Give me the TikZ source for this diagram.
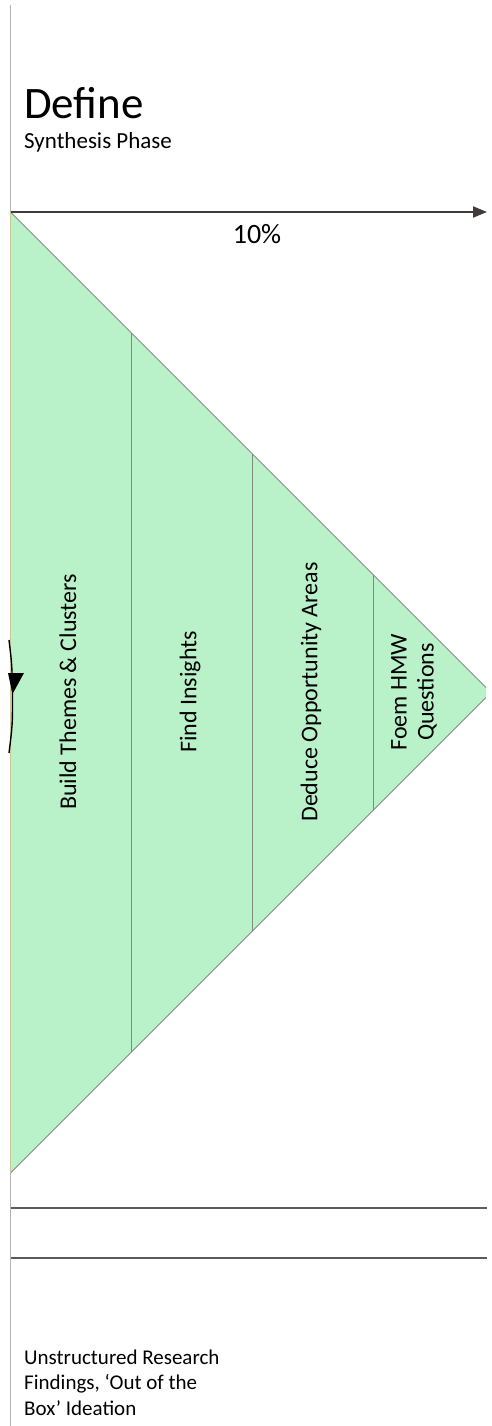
\documentclass[tikz,border=0pt]{standalone}
\usepackage{fontspec}
\setmainfont{Carlito}
\usepackage{xcolor}
\usetikzlibrary{arrows.meta}
\usetikzlibrary{calc}
\definecolor{definefill}{HTML}{B9F1C9}
\definecolor{axisgray}{HTML}{B4B4B4}
\definecolor{arrowgray}{HTML}{413B3B}
\definecolor{edgegray}{HTML}{5A5A5A}
\definecolor{dividergray}{HTML}{7D8C80}
\definecolor{edgetan}{HTML}{CCC79A}
\tikzset{
  phaselabel/.style={rotate=90, inner sep=0pt, align=center, font=\fontsize{24}{27}\selectfont},
  phaseline/.style={edgegray, line width=1.3pt},
}

\begin{document}
\begin{tikzpicture}[x=1pt,y=-1pt]
        \newcommand{\definetrileft}{10.5}
        \newcommand{\definetritop}{212}
        \newcommand{\definetribot}{1173}
        \newcommand{\definetriright}{486}
        \newcommand{\definetrimid}{692}
        \newcommand{\definecolw}{121}
        \useasboundingbox (0,0) rectangle (491,1426);
        \draw[axisgray, line width=1.2pt] (\definetrileft,5) -- (\definetrileft,1426);
        \coordinate (origin) at (\definetrileft,\definetritop);
        \coordinate (tip) at (\definetriright,\definetritop+\definetriright-\definetrileft);
        \coordinate (tipb) at (\definetriright,\definetribot-\definetriright+\definetrileft);
        \coordinate (base) at (\definetrileft,\definetribot);
        \fill[definefill] (origin) -- (tip) -- (tipb) -- (base) -- cycle;
        \draw[edgegray, line width=0.6pt] (origin) -- (tip);
        \draw[edgegray, line width=0.6pt] (tipb) -- (base);
        \draw[edgetan, line width=1pt] (origin) -- (base);
        \foreach \col in {1,2,3}
            \draw[dividergray, line width=0.9pt] (\definetrileft+\col*\definecolw,\definetritop+\col*\definecolw) -- (\definetrileft+\col*\definecolw,\definetribot-\col*\definecolw);
        \coordinate (axisend) at (487,\definetritop);
        \draw[arrowgray, line width=2pt, -{Triangle[length=14pt,width=11pt]}] (origin) -- (axisend);
        \coordinate (loopa) at (9,640);
        \coordinate (loopb) at (12.5,694);
        \coordinate (loopc) at (9,753);
        \draw[black, line width=1.4pt] (loopa) .. controls (12,665) .. (loopb);
        \draw[black, line width=1.4pt] (loopb) .. controls (12.5,725) .. (loopc);
        \fill[black] (8,673) -- (24,673) -- (loopb) -- cycle;
        \node[anchor=base west, inner sep=0pt, font=\fontsize{45}{54}\selectfont] (title) at (24,118) {Define};
        \node[anchor=base west, inner sep=0pt, font=\fontsize{23}{27}\selectfont] (subtitle) at (24,148) {Synthesis Phase};
        \node[anchor=base, inner sep=0pt, font=\fontsize{28}{32}\selectfont] (share) at (257,243) {10\%};
        \node[phaselabel] (build) at (68,\definetrimid) {Build Themes \& Clusters};
        \node[phaselabel] (insights) at (190,\definetrimid) {Find Insights};
        \node[phaselabel] (deduce) at (311,\definetrimid) {Deduce Opportunity Areas};
        \node[phaselabel] (hmw) at (414,\definetrimid) {Foem HMW\\Questions};
        \draw[phaseline] (\definetrileft,1208) -- (487,1208);
        \draw[phaseline] (\definetrileft,1258) -- (487,1258);
        \node[anchor=base west, inner sep=0pt, align=left, font=\fontsize{21}{25.5}\selectfont] (findings) at (24,1415) {Unstructured Research\\Findings, ‘Out of the\\Box’ Ideation};
    \end{tikzpicture}
\end{document}
